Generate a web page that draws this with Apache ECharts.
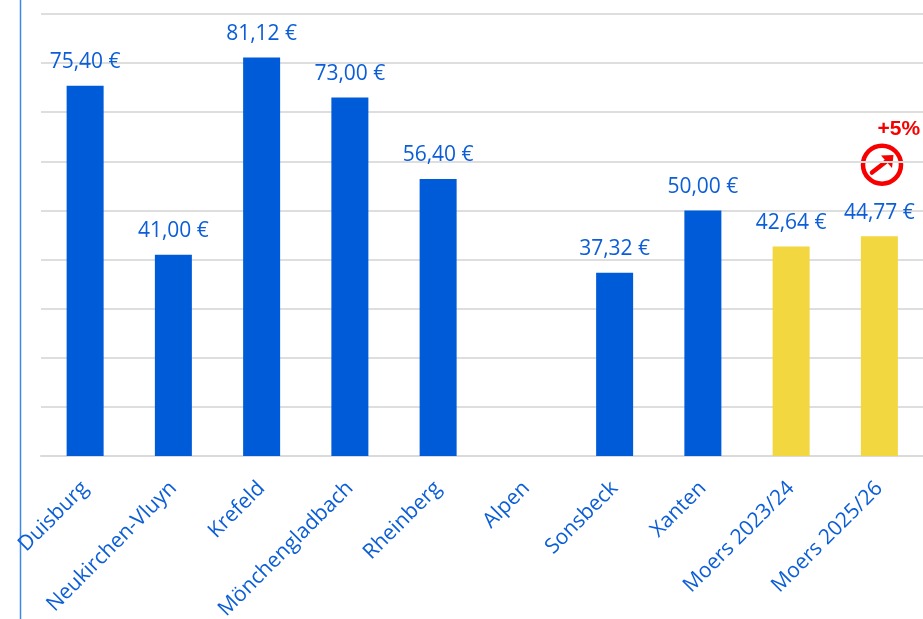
<!DOCTYPE html>
<html>
<head>
<meta charset="utf-8">
<style>html,body{margin:0;padding:0;background:#fff}#c{width:923px;height:619px}</style>
<script src="https://cdn.jsdelivr.net/npm/echarts@6/dist/echarts.min.js"></script>
</head>
<body>
<div id="c"></div>
<script>
var categories = ['Duisburg','Neukirchen-Vluyn','Krefeld','Mönchengladbach','Rheinberg','Alpen','Sonsbeck','Xanten','Moers 2023/24','Moers 2025/26'];
var values = [75.40,41.00,81.12,73.00,56.40,null,37.32,50.00,42.64,44.77];
var highlighted = ['Moers 2023/24','Moers 2025/26'];
var blue = '#005BD9', yellow = '#F2D740', text = '#0B5ED7', red = '#F60000';
var chart = echarts.init(document.getElementById('c'), null, {renderer:'canvas'});
function fmt(v){ return v.toFixed(2).replace('.',',') + ' €'; }
chart.setOption({
  animation:false,
  backgroundColor:'#fff',
  grid:{left:41,right:-0.5,top:14,bottom:163,outerBoundsMode:'none'},
  xAxis:{type:'category',data:categories,
    axisLine:{lineStyle:{color:'#DADADA',width:2}},
    axisTick:{show:false},
    axisLabel:{interval:0,rotate:45,margin:29,color:text,fontFamily:'"Open Sans"',fontSize:21}},
  yAxis:{type:'value',min:0,max:90,interval:10,
    axisLine:{show:false},axisTick:{show:false},axisLabel:{show:false},
    splitLine:{lineStyle:{color:'#DEDEDE',width:2}}},
  series:[{type:'bar',barWidth:37,
    data:values.map(function(v,i){return {value:v,itemStyle:{color:highlighted.indexOf(categories[i])>=0?yellow:blue}};}),
    label:{show:true,position:'top',distance:13,color:text,fontFamily:'"Open Sans"',fontSize:21,
      formatter:function(p){return p.value==null?'':fmt(p.value);}}}],
  graphic:[
    {type:'line',silent:true,shape:{x1:20.5,y1:0,x2:20.5,y2:619},style:{stroke:'#3F86EA',lineWidth:1.5}},
    {type:'text',x:877.5,y:118.5,style:{text:'+5%',fill:red,font:'bold 21px "Liberation Sans"'}},
    {type:'circle',shape:{cx:882,cy:164.7,r:19},style:{fill:'#fff',stroke:red,lineWidth:4.5}},
    {type:'line',shape:{x1:872,y1:172.5,x2:890,y2:158.5},style:{stroke:red,lineWidth:4.5,lineCap:'round'}},
    {type:'polygon',shape:{points:[[881,155.5],[893.5,155],[892,168]]},style:{fill:red}}
  ]
});
</script>
</body>
</html>
